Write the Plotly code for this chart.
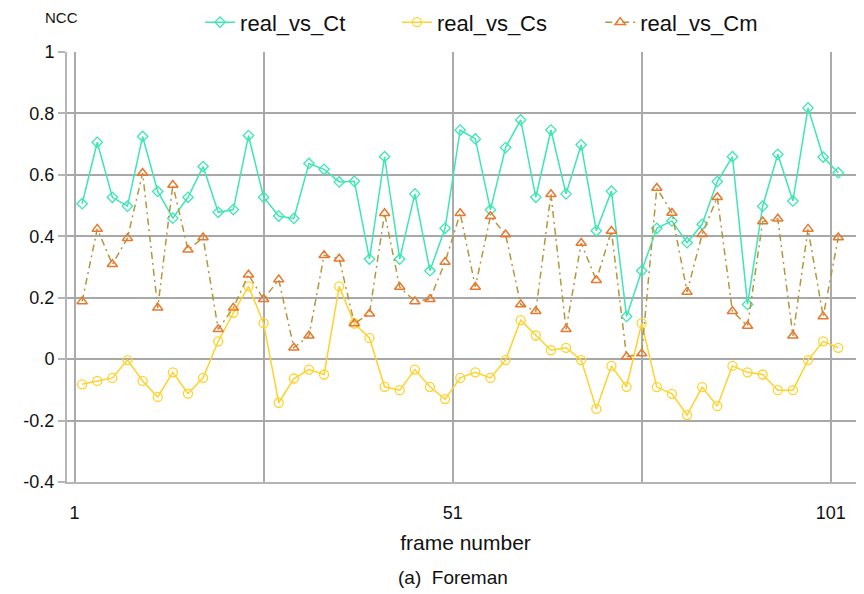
import plotly.graph_objects as go

frames = list(range(2, 103, 2))

real_vs_Ct = [0.506, 0.706, 0.527, 0.498, 0.725, 0.546, 0.459, 0.527, 0.627, 0.478,
              0.487, 0.728, 0.527, 0.466, 0.458, 0.637, 0.618, 0.577, 0.579, 0.326,
              0.659, 0.326, 0.538, 0.288, 0.426, 0.746, 0.717, 0.486, 0.689, 0.779,
              0.527, 0.746, 0.538, 0.698, 0.418, 0.547, 0.139, 0.288, 0.426, 0.450,
              0.379, 0.439, 0.578, 0.659, 0.178, 0.498, 0.667, 0.515, 0.818, 0.658,
              0.607]

real_vs_Cs = [-0.082, -0.071, -0.061, -0.003, -0.071, -0.123, -0.043, -0.112, -0.061, 0.058,
              0.151, 0.237, 0.117, -0.142, -0.063, -0.034, -0.050, 0.237, 0.116, 0.069,
              -0.090, -0.101, -0.034, -0.090, -0.130, -0.061, -0.043, -0.061, -0.003, 0.127,
              0.077, 0.029, 0.037, -0.003, -0.162, -0.022, -0.090, 0.117, -0.091, -0.113,
              -0.182, -0.091, -0.153, -0.022, -0.043, -0.050, -0.101, -0.101, -0.003, 0.058,
              0.037]

real_vs_Cm = [0.188, 0.424, 0.309, 0.394, 0.606, 0.167, 0.567, 0.356, 0.396, 0.097,
              0.167, 0.275, 0.195, 0.259, 0.037, 0.076, 0.338, 0.327, 0.116, 0.148,
              0.475, 0.235, 0.188, 0.195, 0.316, 0.475, 0.235, 0.465, 0.406, 0.178,
              0.156, 0.537, 0.097, 0.378, 0.257, 0.417, 0.008, 0.018, 0.557, 0.476,
              0.219, 0.407, 0.527, 0.156, 0.108, 0.448, 0.457, 0.076, 0.424, 0.139,
              0.396]

y_tickvals = [1.0, 0.8, 0.6, 0.4, 0.2, 0.0, -0.2, -0.4]
y_ticktext = ["1", "0.8", "0.6", "0.4", "0.2", "0", "-0.2", "-0.4"]
x_tickvals = [1, 51, 101]
x_ticktext = ["1", "51", "101"]
x_minor_grid = [26, 76]

FONT = "Liberation Sans, Arial, sans-serif"
TXT = "#111111"

fig = go.Figure()
fig.add_trace(go.Scatter(
    x=frames, y=real_vs_Ct, name="real_vs_Ct", mode="lines+markers", legend="legend",
    line=dict(color="#3EE6B4", width=1.5),
    marker=dict(symbol="diamond-open", size=8, color="#3EE6B4", line=dict(width=1.3)),
))
fig.add_trace(go.Scatter(
    x=frames, y=real_vs_Cs, name="real_vs_Cs", mode="lines+markers", legend="legend2",
    line=dict(color="#FFD22E", width=1.5),
    marker=dict(symbol="circle-open", size=9, color="#FFD22E", line=dict(width=1.3)),
))
fig.add_trace(go.Scatter(
    x=frames, y=real_vs_Cm, name="real_vs_Cm", mode="lines+markers", legend="legend3",
    line=dict(color="#B4963C", width=1.5, dash="7px,4px,2px,4px"),
    marker=dict(symbol="triangle-up-open", size=9, color="#E8782E", line=dict(width=1.5)),
))

def leg(x):
    return dict(x=x, xanchor="left", y=1.069, yanchor="middle",
                font=dict(family=FONT, size=22, color=TXT),
                bgcolor="rgba(0,0,0,0)", itemwidth=30)

fig.update_layout(
    width=856, height=586,
    margin=dict(l=59, r=0, t=44, b=112, autoexpand=False),
    paper_bgcolor="white", plot_bgcolor="white",
    font=dict(family=FONT, color=TXT, size=18),
    showlegend=True,
    legend=leg(0.167),
    legend2=leg(0.414),
    legend3=leg(0.669),
    xaxis=dict(
        range=[0, 105.4],
        tickmode="array", tickvals=x_tickvals, ticktext=x_ticktext,
        showgrid=True, gridcolor="#ABABAB", gridwidth=1.5,
        minor=dict(tickmode="array", tickvals=x_minor_grid, showgrid=True,
                   gridcolor="#ABABAB", gridwidth=1.5),
        showline=True, linecolor="#B5B5B5", linewidth=2,
        ticks="", zeroline=False, ticklabelstandoff=13,
        tickfont=dict(size=18),
        title=dict(text="frame number", font=dict(size=21), standoff=14),
    ),
    yaxis=dict(
        range=[-0.4, 1.0],
        tickmode="array", tickvals=y_tickvals, ticktext=y_ticktext,
        showgrid=True, gridcolor="#A8A8A8", gridwidth=1.5,
        showline=True, linecolor="#B5B5B5", linewidth=2,
        ticks="outside", ticklen=7, tickcolor="#B5B5B5", tickwidth=1.5,
        zeroline=False, tickfont=dict(size=18),
    ),
)

fig.add_annotation(text="NCC", xref="paper", yref="paper", x=-0.03, y=1.081,
                   xanchor="left", yanchor="middle", showarrow=False,
                   font=dict(family=FONT, size=15, color=TXT))
fig.add_annotation(text="(a)  Foreman", xref="paper", yref="paper", x=0.484, y=-0.223,
                   xanchor="center", yanchor="middle", showarrow=False,
                   font=dict(family=FONT, size=19, color=TXT))

fig.write_html("out.html")
